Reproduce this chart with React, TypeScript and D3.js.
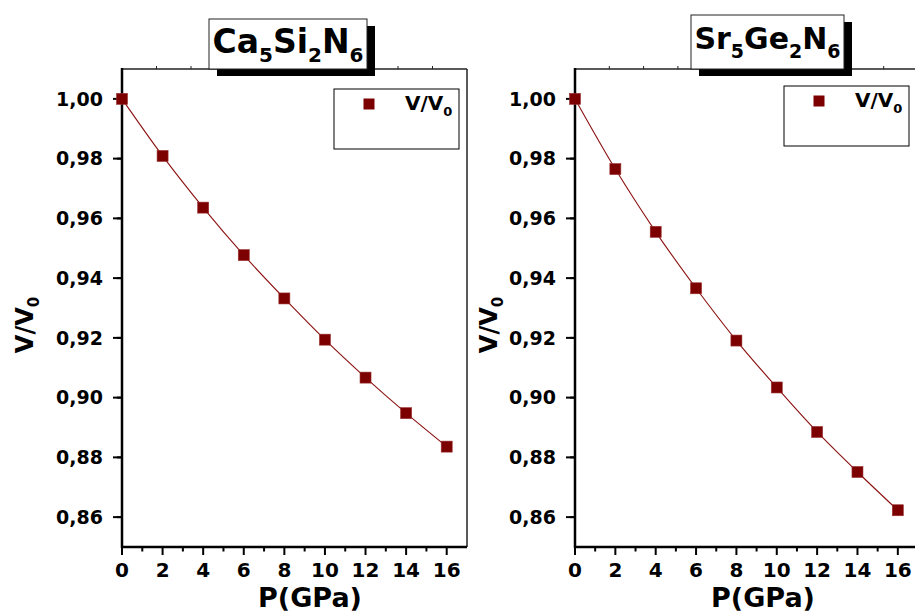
import React from "react";
import * as d3 from "d3";

const pressure = [0, 2, 4, 6, 8, 10, 12, 14, 16];
const caValues = [1.0, 0.9809, 0.9636, 0.9477, 0.9332, 0.9194, 0.9067, 0.8948, 0.8836];
const srValues = [1.0, 0.9765, 0.9555, 0.9366, 0.9191, 0.9034, 0.8885, 0.8751, 0.8623];
const xTicks = [0, 2, 4, 6, 8, 10, 12, 14, 16];
const yTicks = [0.86, 0.88, 0.9, 0.92, 0.94, 0.96, 0.98, 1.0];
const caTitle: [string, string][] = [["Ca", "5"], ["Si", "2"], ["N", "6"]];
const srTitle: [string, string][] = [["Sr", "5"], ["Ge", "2"], ["N", "6"]];
const seriesName = ["V/V", "0"];
const xLabel = "P(GPa)";

const FONT = "'DejaVu Sans', sans-serif";
const RED = "#7d0000";

type PanelProps = {
  values: number[];
  title: [string, string][];
  left: number;
  right: number;
  titleBox: { x: number; y: number; w: number; h: number; base: number; size: number; sub: number };
  legend: { x: number; y: number; w: number; h: number };
  yLabelX: number;
};

function Panel({ values, title, left, right, titleBox, legend, yLabelX }: PanelProps) {
  const top = 69;
  const bottom = 547;
  const x = d3.scaleLinear().domain([0, 17]).range([left, right]);
  const y = d3.scaleLinear().domain([0.85, 1.01]).range([bottom, top]);
  const pts = pressure.map((p, i) => [p, values[i]] as [number, number]);
  const line = d3
    .line<[number, number]>()
    .x((d) => x(d[0]))
    .y((d) => y(d[1]))
    .curve(d3.curveMonotoneX);
  const minorX = d3.range(1, 17, 2);
  const minorY = d3.range(0, 8).map((i) => 0.85 + 0.02 * i + 0.01);
  const topTicks = d3.range(1, 10).map((i) => (17 * i) / 10);
  const fmt = (v: number) => v.toFixed(2).replace(".", ",");
  const s = 11;
  return (
    <g>
      {/* frame */}
      <line x1={left} x2={right} y1={top} y2={top} stroke="#222" strokeWidth={1.5} />
      <line x1={right} x2={right} y1={top} y2={bottom} stroke="#222" strokeWidth={1.5} />
      {topTicks.map((t) => (
        <line key={"tt" + t} x1={x(t)} x2={x(t)} y1={top} y2={top - 3} stroke="#222" strokeWidth={1} />
      ))}
      {/* y axis */}
      <line x1={left} x2={left} y1={top - 1} y2={bottom + 1} stroke="#000" strokeWidth={2.5} />
      {yTicks.map((t) => (
        <g key={"yt" + t}>
          <line x1={left - 9} x2={left} y1={y(t)} y2={y(t)} stroke="#000" strokeWidth={2} />
          <text
            x={left - 19}
            y={y(t)}
            dy="0.36em"
            textAnchor="end"
            fontFamily={FONT}
            fontWeight="bold"
            fontSize={19}
          >
            {fmt(t)}
          </text>
        </g>
      ))}
      {minorY.map((t) => (
        <line key={"ym" + t} x1={left - 5} x2={left} y1={y(t)} y2={y(t)} stroke="#000" strokeWidth={2} />
      ))}
      {/* x axis */}
      <line x1={left - 1} x2={right} y1={bottom} y2={bottom} stroke="#000" strokeWidth={2.5} />
      {xTicks.map((t) => (
        <g key={"xt" + t}>
          <line x1={x(t)} x2={x(t)} y1={bottom} y2={bottom + 8} stroke="#000" strokeWidth={2} />
          <text
            x={x(t)}
            y={bottom + 30}
            textAnchor="middle"
            fontFamily={FONT}
            fontWeight="bold"
            fontSize={20}
          >
            {t}
          </text>
        </g>
      ))}
      {minorX.map((t) => (
        <line key={"xm" + t} x1={x(t)} x2={x(t)} y1={bottom} y2={bottom + 4.5} stroke="#000" strokeWidth={2} />
      ))}
      <text
        x={left + 188}
        y={bottom + 60}
        textAnchor="middle"
        fontFamily={FONT}
        fontWeight="bold"
        fontSize={27}
      >
        {xLabel}
      </text>
      {/* y label */}
      <text
        transform={`translate(${yLabelX},325) rotate(-90)`}
        textAnchor="middle"
        fontFamily={FONT}
        fontWeight="bold"
        fontSize={24}
      >
        <tspan>{seriesName[0]}</tspan>
        <tspan fontSize={15} dy={6}>
          {seriesName[1]}
        </tspan>
      </text>
      {/* data */}
      <path d={line(pts) || ""} fill="none" stroke="#8b1010" strokeWidth={1.1} />
      {pts.map((d, i) => (
        <rect
          key={"p" + i}
          x={x(d[0]) - s / 2}
          y={y(d[1]) - s / 2}
          width={s}
          height={s}
          fill={RED}
          stroke="#9a3030"
          strokeWidth={0.6}
        />
      ))}
      {/* title */}
      <rect x={titleBox.x + 8} y={titleBox.y + 7} width={titleBox.w} height={titleBox.h} fill="#000" />
      <rect x={titleBox.x} y={titleBox.y} width={titleBox.w} height={titleBox.h} fill="#fff" stroke="#222" strokeWidth={1} />
      <text
        x={titleBox.x + titleBox.w / 2}
        y={titleBox.base}
        textAnchor="middle"
        fontFamily={FONT}
        fontWeight="bold"
        fontSize={titleBox.size}
      >
        {title.map(([a, b], i) => (
          <React.Fragment key={i}>
            <tspan dy={i === 0 ? 0 : -9}>{a}</tspan>
            <tspan fontSize={titleBox.sub} dy={9}>
              {b}
            </tspan>
          </React.Fragment>
        ))}
      </text>
      {/* legend */}
      <rect x={legend.x} y={legend.y} width={legend.w} height={legend.h} fill="#fff" stroke="#000" strokeWidth={1} />
      <rect x={legend.x + 35 - 5.5} y={legend.y + 15 - 5.5} width={11} height={11} fill={RED} />
      <text x={legend.x + 71} y={legend.y + 21} fontFamily={FONT} fontWeight="bold" fontSize={20}>
        <tspan>{seriesName[0]}</tspan>
        <tspan fontSize={13} dy={6}>
          {seriesName[1]}
        </tspan>
      </text>
    </g>
  );
}

export default function App() {
  return (
    <svg
      width={915}
      height={613}
      style={{ position: "absolute", left: 0, top: 0, background: "#fff" }}
    >
      <rect width={915} height={613} fill="#fff" />
      <Panel
        values={caValues}
        title={caTitle}
        left={122}
        right={467}
        titleBox={{ x: 209, y: 19, w: 158, h: 50, base: 53, size: 33, sub: 20 }}
        legend={{ x: 334, y: 89, w: 125, h: 60 }}
        yLabelX={33}
      />
      <Panel
        values={srValues}
        title={srTitle}
        left={575}
        right={918}
        titleBox={{ x: 691, y: 15, w: 153, h: 54, base: 49, size: 30, sub: 19 }}
        legend={{ x: 784, y: 86, w: 125, h: 60 }}
        yLabelX={497}
      />
    </svg>
  );
}
